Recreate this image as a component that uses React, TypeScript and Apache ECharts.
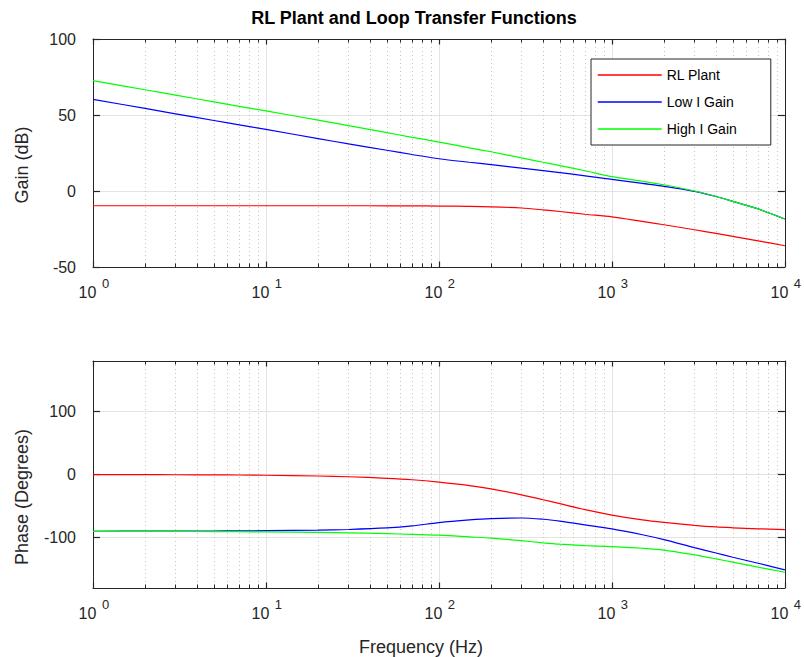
import React, { useEffect, useRef } from "react";
import * as echarts from "echarts";

// Frequency samples (Hz) for the Bode curves
const freqHz = [1, 2, 3, 5, 7, 10, 20, 30, 50, 70, 100, 150, 200, 300, 400, 500, 700, 1000, 1500, 2000, 3000, 4000, 5000, 7000, 10000];

// Magnitude (dB)
const plantGainDb = [-9.7, -9.7, -9.7, -9.7, -9.7, -9.7, -9.7, -9.7, -9.75, -9.8, -9.9, -10.1, -10.4, -11.2, -12.4, -13.5, -15.3, -17.0, -20.0, -22.2, -25.5, -27.9, -29.8, -32.8, -36.0];
const lowIGainDb = [60.3, 54.3, 50.8, 46.4, 43.5, 40.5, 34.5, 31.0, 26.8, 24.0, 21.2, 18.9, 17.4, 15.0, 13.4, 12.1, 10.0, 7.7, 5.0, 3.1, -0.2, -3.6, -6.8, -11.8, -18.4];
const highIGainDb = [72.6, 66.6, 63.1, 58.6, 55.7, 52.7, 46.6, 43.0, 38.4, 35.3, 32.2, 28.4, 25.8, 21.8, 18.9, 16.7, 13.3, 9.4, 6.4, 4.1, 0.0, -3.6, -6.8, -11.8, -18.4];

// Phase (degrees)
const plantPhaseDeg = [-0.1, -0.2, -0.4, -0.6, -0.8, -1.2, -2.4, -3.6, -6.0, -8.3, -12.0, -17.5, -22.8, -32.2, -40.0, -46.3, -55.8, -64.3, -72.0, -76.0, -80.6, -83.2, -84.5, -86.1, -87.3];
const lowIPhaseDeg = [-90.0, -89.9, -89.8, -89.6, -89.4, -89.1, -88.2, -87.2, -84.8, -81.6, -76.2, -72.0, -69.9, -69.0, -71.0, -74.0, -79.8, -86.2, -95.5, -103.2, -115.9, -124.5, -131.2, -140.7, -151.3];
const highIPhaseDeg = [-90.1, -90.2, -90.3, -90.5, -90.7, -91.0, -91.8, -92.5, -93.8, -95.0, -96.3, -99.0, -101.0, -105.0, -108.3, -110.5, -112.8, -114.5, -117.0, -119.8, -127.5, -133.8, -139.0, -147.0, -155.0];

// Axis ticks
const decadeTicks = [1, 10, 100, 1000, 10000];
const decadeExponents = ["0", "1", "2", "3", "4"];
const minorTicks = [
  2, 3, 4, 5, 6, 7, 8, 9,
  20, 30, 40, 50, 60, 70, 80, 90,
  200, 300, 400, 500, 600, 700, 800, 900,
  2000, 3000, 4000, 5000, 6000, 7000, 8000, 9000,
];
const phaseTicks = [-100, 0, 100];

const seriesNames = ["RL Plant", "Low I Gain", "High I Gain"];
const seriesColors = ["#ff0000", "#0000ff", "#00ff00"];

const FONT = "'Liberation Sans', Arial, Helvetica, sans-serif";
const AXIS_COLOR = "#262626";
const GRID_COLOR = "#e3e3e3";
const MINOR_GRID_COLOR = "#c4c4c4";

function pairs(ys: number[]) {
  return freqHz.map((f, i) => [f, ys[i]]);
}

function exponentOf(v: number) {
  const idx = decadeTicks.indexOf(Math.round(v));
  return idx >= 0 ? decadeExponents[idx] : "";
}

function xAxesFor(gridIndex: number) {
  const base = { type: "log", logBase: 10, gridIndex, min: 1, max: 10000 };
  return [
    // bottom border: decade ticks, "10" base labels, solid grid
    {
      ...base,
      position: "bottom",
      axisLine: { show: true, onZero: false, lineStyle: { color: AXIS_COLOR, width: 1 } },
      axisTick: { show: true, inside: true, length: 5.5, customValues: decadeTicks, lineStyle: { color: AXIS_COLOR, width: 1.2 } },
      axisLabel: {
        show: true,
        customValues: decadeTicks,
        margin: 17,
        formatter: () => "10",
        fontSize: 16,
        lineHeight: 16,
        fontFamily: FONT,
        color: AXIS_COLOR,
        padding: [0, 11, 0, 0],
      },
      splitLine: { show: true, lineStyle: { color: GRID_COLOR, width: 1 } },
    },
    // bottom: minor ticks and dotted minor grid
    {
      ...base,
      position: "bottom",
      axisLine: { show: false, onZero: false },
      axisTick: { show: true, inside: true, length: 3.5, customValues: minorTicks, lineStyle: { color: AXIS_COLOR, width: 1 } },
      axisLabel: { show: false },
      splitLine: { show: true, lineStyle: { color: MINOR_GRID_COLOR, width: 1, type: [1, 3] } },
    },
    // bottom: superscript exponents
    {
      ...base,
      position: "bottom",
      axisLine: { show: false, onZero: false },
      axisTick: { show: false },
      axisLabel: {
        show: true,
        customValues: decadeTicks,
        margin: 10,
        formatter: (v: number) => exponentOf(v),
        fontSize: 13,
        lineHeight: 13,
        fontFamily: FONT,
        color: AXIS_COLOR,
        padding: [0, 0, 0, 25],
      },
      splitLine: { show: false },
    },
    // top border
    {
      ...base,
      position: "top",
      axisLine: { show: true, onZero: false, lineStyle: { color: AXIS_COLOR, width: 1 } },
      axisTick: { show: true, inside: true, length: 5.5, customValues: decadeTicks, lineStyle: { color: AXIS_COLOR, width: 1.2 } },
      axisLabel: { show: false },
      splitLine: { show: false },
    },
    {
      ...base,
      position: "top",
      axisLine: { show: false, onZero: false },
      axisTick: { show: true, inside: true, length: 3.5, customValues: minorTicks, lineStyle: { color: AXIS_COLOR, width: 1 } },
      axisLabel: { show: false },
      splitLine: { show: false },
    },
  ];
}

function yAxesFor(gridIndex: number, range: any, ticks?: number[]) {
  const tickCustom = ticks ? { customValues: ticks } : {};
  return [
    {
      type: "value",
      gridIndex,
      ...range,
      position: "left",
      axisLine: { show: true, onZero: false, lineStyle: { color: AXIS_COLOR, width: 1 } },
      axisTick: { show: true, inside: true, length: 7, lineStyle: { color: AXIS_COLOR, width: 1.2 }, ...tickCustom },
      axisLabel: { show: true, fontSize: 16, fontFamily: FONT, color: AXIS_COLOR, margin: 17, padding: [0, 0, 5, 0], ...tickCustom },
      splitLine: { show: true, lineStyle: { color: GRID_COLOR, width: 1.2 } },
    },
    {
      type: "value",
      gridIndex,
      ...range,
      position: "right",
      axisLine: { show: true, onZero: false, lineStyle: { color: AXIS_COLOR, width: 1 } },
      axisTick: { show: true, inside: true, length: 7, lineStyle: { color: AXIS_COLOR, width: 1.2 }, ...tickCustom },
      axisLabel: { show: false },
      splitLine: { show: false },
    },
  ];
}

function lineSeries(name: string, color: string, ys: number[], xAxisIndex: number, yAxisIndex: number) {
  return {
    type: "line",
    name,
    xAxisIndex,
    yAxisIndex,
    data: pairs(ys),
    symbol: "none",
    smooth: 0.3,
    lineStyle: { color, width: 1.2 },
    itemStyle: { color },
    z: 3,
  };
}

export default function App() {
  const ref = useRef<HTMLDivElement>(null);

  useEffect(() => {
    if (!ref.current) return;
    const chart = echarts.init(ref.current, undefined, { renderer: "svg" });

    const gainSets = [plantGainDb, lowIGainDb, highIGainDb];
    const phaseSets = [plantPhaseDeg, lowIPhaseDeg, highIPhaseDeg];
    const xPerGrid = xAxesFor(0).length;

    const option: any = {
      animation: false,
      backgroundColor: "#ffffff",
      textStyle: { fontFamily: FONT },
      grid: [
        { left: 93, right: 12, top: 39, height: 228, containLabel: false },
        { left: 93, right: 12, top: 361, height: 227, containLabel: false },
      ],
      xAxis: [...xAxesFor(0), ...xAxesFor(1)],
      yAxis: [
        ...yAxesFor(0, { min: -50, max: 100, interval: 50 }),
        ...yAxesFor(1, { min: -180, max: 180 }, phaseTicks),
      ],
      legend: {
        data: seriesNames,
        orient: "vertical",
        left: 591,
        top: 59,
        padding: [8, 34, 8, 6],
        itemWidth: 64,
        itemHeight: 16,
        itemGap: 11,
        backgroundColor: "#ffffff",
        borderColor: AXIS_COLOR,
        borderWidth: 1,
        selectedMode: false,
        itemStyle: { opacity: 0, borderWidth: 0 },
        lineStyle: { width: 1.5 },
        textStyle: { fontSize: 14, lineHeight: 16, fontFamily: FONT, color: "#000000" },
      },
      graphic: [
        {
          type: "text",
          x: 414,
          y: 18,
          style: { text: "RL Plant and Loop Transfer Functions", font: `bold 18px ${FONT}`, fill: "#000000", align: "center", verticalAlign: "middle" },
        },
        {
          type: "text",
          x: 22,
          y: 165,
          rotation: Math.PI / 2,
          style: { text: "Gain (dB)", font: `18px ${FONT}`, fill: AXIS_COLOR, align: "center", verticalAlign: "middle" },
        },
        {
          type: "text",
          x: 22,
          y: 497,
          rotation: Math.PI / 2,
          style: { text: "Phase (Degrees)", font: `18px ${FONT}`, fill: AXIS_COLOR, align: "center", verticalAlign: "middle" },
        },
        {
          type: "text",
          x: 421,
          y: 647,
          style: { text: "Frequency (Hz)", font: `18px ${FONT}`, fill: AXIS_COLOR, align: "center", verticalAlign: "middle" },
        },
      ],
      series: [
        ...seriesNames.map((n, i) => lineSeries(n, seriesColors[i], gainSets[i], 0, 0)),
        ...seriesNames.map((n, i) => lineSeries(n, seriesColors[i], phaseSets[i], xPerGrid, 2)),
      ],
    };

    chart.setOption(option);
    return () => chart.dispose();
  }, []);

  return (
    <div
      ref={ref}
      style={{ position: "absolute", left: 0, top: 0, width: 804, height: 657, background: "#ffffff" }}
    />
  );
}
